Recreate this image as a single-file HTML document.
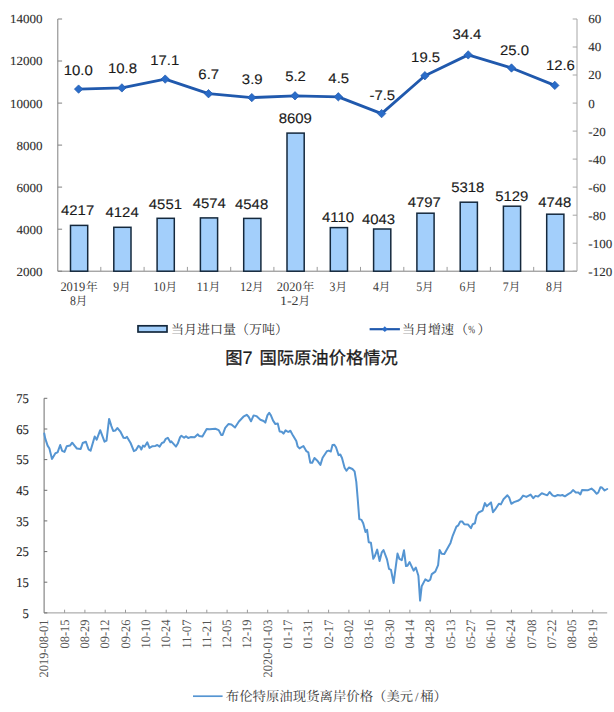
<!DOCTYPE html>
<html lang="zh"><head><meta charset="utf-8"><title>图7 国际原油价格情况</title>
<style>html,body{margin:0;padding:0;background:#fff}body{width:614px;height:712px;overflow:hidden;font-family:"Liberation Sans",sans-serif}svg{display:block}text{white-space:pre;text-rendering:geometricPrecision}</style></head>
<body>
<svg width="614" height="712" viewBox="0 0 614 712" font-family="Liberation Sans, sans-serif">
<rect width="614" height="712" fill="#fff"/>
<g fill="none" stroke-width="1">
<path stroke="#808080" d="M57.8 19V271.2H577"/>
<path stroke="#a6a6a6" d="M577 19V271.2"/>
<path stroke="#808080" d="M57.8 19h4.3M57.8 61h4.3M57.8 103.1h4.3M57.8 145.1h4.3M57.8 187.1h4.3M57.8 229.2h4.3M57.8 271.2h4.3"/>
<path stroke="#a6a6a6" d="M577 19h-4.3M577 47h-4.3M577 75h-4.3M577 103.1h-4.3M577 131.1h-4.3M577 159.1h-4.3M577 187.1h-4.3M577 215.2h-4.3M577 243.2h-4.3M577 271.2h-4.3"/>
<path stroke="#9c9c9c" d="M100.8 271.2v-4.3M144.1 271.2v-4.3M187.4 271.2v-4.3M230.7 271.2v-4.3M273.9 271.2v-4.3M317.2 271.2v-4.3M360.5 271.2v-4.3M403.8 271.2v-4.3M447.1 271.2v-4.3M490.4 271.2v-4.3M533.7 271.2v-4.3"/>
</g>
<text transform="translate(42.4,23.4) scale(1.04,1.0)" font-family="Liberation Serif" font-size="12.5" text-anchor="end" fill="#303030" stroke="#303030" stroke-width="0.12">14000</text>
<text transform="translate(42.4,65.4) scale(1.04,1.0)" font-family="Liberation Serif" font-size="12.5" text-anchor="end" fill="#303030" stroke="#303030" stroke-width="0.12">12000</text>
<text transform="translate(42.4,107.5) scale(1.04,1.0)" font-family="Liberation Serif" font-size="12.5" text-anchor="end" fill="#303030" stroke="#303030" stroke-width="0.12">10000</text>
<text transform="translate(42.4,149.5) scale(1.04,1.0)" font-family="Liberation Serif" font-size="12.5" text-anchor="end" fill="#303030" stroke="#303030" stroke-width="0.12">8000</text>
<text transform="translate(42.4,191.5) scale(1.04,1.0)" font-family="Liberation Serif" font-size="12.5" text-anchor="end" fill="#303030" stroke="#303030" stroke-width="0.12">6000</text>
<text transform="translate(42.4,233.6) scale(1.04,1.0)" font-family="Liberation Serif" font-size="12.5" text-anchor="end" fill="#303030" stroke="#303030" stroke-width="0.12">4000</text>
<text transform="translate(42.4,275.6) scale(1.04,1.0)" font-family="Liberation Serif" font-size="12.5" text-anchor="end" fill="#303030" stroke="#303030" stroke-width="0.12">2000</text>
<text transform="translate(588.3,23.4) scale(1.04,1.0)" font-family="Liberation Serif" font-size="12.5" text-anchor="start" fill="#303030" stroke="#303030" stroke-width="0.12">60</text>
<text transform="translate(588.3,51.4) scale(1.04,1.0)" font-family="Liberation Serif" font-size="12.5" text-anchor="start" fill="#303030" stroke="#303030" stroke-width="0.12">40</text>
<text transform="translate(588.3,79.4) scale(1.04,1.0)" font-family="Liberation Serif" font-size="12.5" text-anchor="start" fill="#303030" stroke="#303030" stroke-width="0.12">20</text>
<text transform="translate(588.3,107.5) scale(1.04,1.0)" font-family="Liberation Serif" font-size="12.5" text-anchor="start" fill="#303030" stroke="#303030" stroke-width="0.12">0</text>
<text transform="translate(588.3,135.5) scale(1.04,1.0)" font-family="Liberation Serif" font-size="12.5" text-anchor="start" fill="#303030" stroke="#303030" stroke-width="0.12">-20</text>
<text transform="translate(588.3,163.5) scale(1.04,1.0)" font-family="Liberation Serif" font-size="12.5" text-anchor="start" fill="#303030" stroke="#303030" stroke-width="0.12">-40</text>
<text transform="translate(588.3,191.5) scale(1.04,1.0)" font-family="Liberation Serif" font-size="12.5" text-anchor="start" fill="#303030" stroke="#303030" stroke-width="0.12">-60</text>
<text transform="translate(588.3,219.6) scale(1.04,1.0)" font-family="Liberation Serif" font-size="12.5" text-anchor="start" fill="#303030" stroke="#303030" stroke-width="0.12">-80</text>
<text transform="translate(588.3,247.6) scale(1.04,1.0)" font-family="Liberation Serif" font-size="12.5" text-anchor="start" fill="#303030" stroke="#303030" stroke-width="0.12">-100</text>
<text transform="translate(588.3,275.6) scale(1.04,1.0)" font-family="Liberation Serif" font-size="12.5" text-anchor="start" fill="#303030" stroke="#303030" stroke-width="0.12">-120</text>
<g fill="#a3cffb" stroke="#14283c" stroke-width="1.5">
<rect x="70.5" y="225.4" width="17.2" height="45.8"/>
<rect x="113.8" y="227.3" width="17.2" height="43.9"/>
<rect x="157.1" y="218.3" width="17.2" height="52.9"/>
<rect x="200.4" y="217.9" width="17.2" height="53.3"/>
<rect x="243.7" y="218.4" width="17.2" height="52.8"/>
<rect x="287" y="133.1" width="17.2" height="138.1"/>
<rect x="330.3" y="227.6" width="17.2" height="43.6"/>
<rect x="373.6" y="229" width="17.2" height="42.2"/>
<rect x="416.9" y="213.2" width="17.2" height="58"/>
<rect x="460.2" y="202.2" width="17.2" height="69"/>
<rect x="503.4" y="206.2" width="17.2" height="65"/>
<rect x="546.7" y="214.2" width="17.2" height="57"/>
</g>
<text transform="translate(77.6,215.3) scale(1.065,1.0)" font-family="Liberation Sans" font-size="14.0" text-anchor="middle" fill="#1a1a1a" stroke="#1a1a1a" stroke-width="0.12">4217</text>
<text transform="translate(122.1,217.3) scale(1.065,1.0)" font-family="Liberation Sans" font-size="14.0" text-anchor="middle" fill="#1a1a1a" stroke="#1a1a1a" stroke-width="0.12">4124</text>
<text transform="translate(165.4,208.6) scale(1.065,1.0)" font-family="Liberation Sans" font-size="14.0" text-anchor="middle" fill="#1a1a1a" stroke="#1a1a1a" stroke-width="0.12">4551</text>
<text transform="translate(209.3,208.4) scale(1.065,1.0)" font-family="Liberation Sans" font-size="14.0" text-anchor="middle" fill="#1a1a1a" stroke="#1a1a1a" stroke-width="0.12">4574</text>
<text transform="translate(251.6,208.6) scale(1.065,1.0)" font-family="Liberation Sans" font-size="14.0" text-anchor="middle" fill="#1a1a1a" stroke="#1a1a1a" stroke-width="0.12">4548</text>
<text transform="translate(295.3,123.2) scale(1.065,1.0)" font-family="Liberation Sans" font-size="14.0" text-anchor="middle" fill="#1a1a1a" stroke="#1a1a1a" stroke-width="0.12">8609</text>
<text transform="translate(338,221.9) scale(1.065,1.0)" font-family="Liberation Sans" font-size="14.0" text-anchor="middle" fill="#1a1a1a" stroke="#1a1a1a" stroke-width="0.12">4110</text>
<text transform="translate(378.5,223.5) scale(1.065,1.0)" font-family="Liberation Sans" font-size="14.0" text-anchor="middle" fill="#1a1a1a" stroke="#1a1a1a" stroke-width="0.12">4043</text>
<text transform="translate(424.3,207.4) scale(1.065,1.0)" font-family="Liberation Sans" font-size="14.0" text-anchor="middle" fill="#1a1a1a" stroke="#1a1a1a" stroke-width="0.12">4797</text>
<text transform="translate(467.8,192.3) scale(1.065,1.0)" font-family="Liberation Sans" font-size="14.0" text-anchor="middle" fill="#1a1a1a" stroke="#1a1a1a" stroke-width="0.12">5318</text>
<text transform="translate(511.8,200.9) scale(1.065,1.0)" font-family="Liberation Sans" font-size="14.0" text-anchor="middle" fill="#1a1a1a" stroke="#1a1a1a" stroke-width="0.12">5129</text>
<text transform="translate(554.8,207.3) scale(1.065,1.0)" font-family="Liberation Sans" font-size="14.0" text-anchor="middle" fill="#1a1a1a" stroke="#1a1a1a" stroke-width="0.12">4748</text>
<polyline fill="none" stroke="#2059ad" stroke-width="2.85" stroke-linejoin="round" stroke-linecap="round" points="78.6,89.1 121.9,87.9 165.2,79.1 208.5,93.7 251.8,97.6 295,95.8 338.3,96.8 381.6,113.6 424.9,75.7 468.2,54.9 511.5,68 554.8,85.4"/>
<path fill="#2a6cc8" stroke="#2059ad" stroke-width="0.7" stroke-linejoin="round" d="M78.6 84.9l4.2 4.2l-4.2 4.2l-4.2 -4.2zM121.9 83.7l4.2 4.2l-4.2 4.2l-4.2 -4.2zM165.2 74.9l4.2 4.2l-4.2 4.2l-4.2 -4.2zM208.5 89.5l4.2 4.2l-4.2 4.2l-4.2 -4.2zM251.8 93.4l4.2 4.2l-4.2 4.2l-4.2 -4.2zM295 91.6l4.2 4.2l-4.2 4.2l-4.2 -4.2zM338.3 92.6l4.2 4.2l-4.2 4.2l-4.2 -4.2zM381.6 109.4l4.2 4.2l-4.2 4.2l-4.2 -4.2zM424.9 71.5l4.2 4.2l-4.2 4.2l-4.2 -4.2zM468.2 50.7l4.2 4.2l-4.2 4.2l-4.2 -4.2zM511.5 63.8l4.2 4.2l-4.2 4.2l-4.2 -4.2zM554.8 81.2l4.2 4.2l-4.2 4.2l-4.2 -4.2z"/>
<text transform="translate(78.3,75.2) scale(1.065,1.0)" font-family="Liberation Sans" font-size="14.0" text-anchor="middle" fill="#1a1a1a" stroke="#1a1a1a" stroke-width="0.12">10.0</text>
<text transform="translate(122.5,73.4) scale(1.065,1.0)" font-family="Liberation Sans" font-size="14.0" text-anchor="middle" fill="#1a1a1a" stroke="#1a1a1a" stroke-width="0.12">10.8</text>
<text transform="translate(164.8,65.4) scale(1.065,1.0)" font-family="Liberation Sans" font-size="14.0" text-anchor="middle" fill="#1a1a1a" stroke="#1a1a1a" stroke-width="0.12">17.1</text>
<text transform="translate(208.7,79.2) scale(1.065,1.0)" font-family="Liberation Sans" font-size="14.0" text-anchor="middle" fill="#1a1a1a" stroke="#1a1a1a" stroke-width="0.12">6.7</text>
<text transform="translate(252.2,83.6) scale(1.065,1.0)" font-family="Liberation Sans" font-size="14.0" text-anchor="middle" fill="#1a1a1a" stroke="#1a1a1a" stroke-width="0.12">3.9</text>
<text transform="translate(295.5,81.4) scale(1.065,1.0)" font-family="Liberation Sans" font-size="14.0" text-anchor="middle" fill="#1a1a1a" stroke="#1a1a1a" stroke-width="0.12">5.2</text>
<text transform="translate(338.7,82.7) scale(1.065,1.0)" font-family="Liberation Sans" font-size="14.0" text-anchor="middle" fill="#1a1a1a" stroke="#1a1a1a" stroke-width="0.12">4.5</text>
<text transform="translate(382.3,99.8) scale(1.065,1.0)" font-family="Liberation Sans" font-size="14.0" text-anchor="middle" fill="#1a1a1a" stroke="#1a1a1a" stroke-width="0.12">-7.5</text>
<text transform="translate(425.6,61.7) scale(1.065,1.0)" font-family="Liberation Sans" font-size="14.0" text-anchor="middle" fill="#1a1a1a" stroke="#1a1a1a" stroke-width="0.12">19.5</text>
<text transform="translate(466.9,39.2) scale(1.065,1.0)" font-family="Liberation Sans" font-size="14.0" text-anchor="middle" fill="#1a1a1a" stroke="#1a1a1a" stroke-width="0.12">34.4</text>
<text transform="translate(514.5,54.7) scale(1.065,1.0)" font-family="Liberation Sans" font-size="14.0" text-anchor="middle" fill="#1a1a1a" stroke="#1a1a1a" stroke-width="0.12">25.0</text>
<text transform="translate(560.4,69.9) scale(1.065,1.0)" font-family="Liberation Sans" font-size="14.0" text-anchor="middle" fill="#1a1a1a" stroke="#1a1a1a" stroke-width="0.12">12.6</text>
<text x="60.4" y="291.3" font-family="Liberation Serif" font-size="13" textLength="24.9" lengthAdjust="spacingAndGlyphs" fill="#3c3c3c">2019</text>
<text x="91.8" y="291.3" font-family="'Liberation Serif', 'Noto Serif CJK SC', serif" font-size="12" text-anchor="middle" fill="#3c3c3c">年</text>
<text x="69.9" y="305.3" font-family="Liberation Serif" font-size="13" textLength="5.9" lengthAdjust="spacingAndGlyphs" fill="#3c3c3c">8</text>
<text x="81.5" y="305.3" font-family="'Liberation Serif', 'Noto Serif CJK SC', serif" font-size="12" text-anchor="middle" fill="#3c3c3c">月</text>
<text x="113.2" y="291.3" font-family="Liberation Serif" font-size="13" textLength="5.9" lengthAdjust="spacingAndGlyphs" fill="#3c3c3c">9</text>
<text x="124.8" y="291.3" font-family="'Liberation Serif', 'Noto Serif CJK SC', serif" font-size="12" text-anchor="middle" fill="#3c3c3c">月</text>
<text x="153.3" y="291.3" font-family="Liberation Serif" font-size="13" textLength="12.2" lengthAdjust="spacingAndGlyphs" fill="#3c3c3c">10</text>
<text x="171.2" y="291.3" font-family="'Liberation Serif', 'Noto Serif CJK SC', serif" font-size="12" text-anchor="middle" fill="#3c3c3c">月</text>
<text x="196.6" y="291.3" font-family="Liberation Serif" font-size="13" textLength="12.2" lengthAdjust="spacingAndGlyphs" fill="#3c3c3c">11</text>
<text x="214.5" y="291.3" font-family="'Liberation Serif', 'Noto Serif CJK SC', serif" font-size="12" text-anchor="middle" fill="#3c3c3c">月</text>
<text x="239.9" y="291.3" font-family="Liberation Serif" font-size="13" textLength="12.2" lengthAdjust="spacingAndGlyphs" fill="#3c3c3c">12</text>
<text x="257.8" y="291.3" font-family="'Liberation Serif', 'Noto Serif CJK SC', serif" font-size="12" text-anchor="middle" fill="#3c3c3c">月</text>
<text x="276.8" y="291.3" font-family="Liberation Serif" font-size="13" textLength="24.9" lengthAdjust="spacingAndGlyphs" fill="#3c3c3c">2020</text>
<text x="308.2" y="291.3" font-family="'Liberation Serif', 'Noto Serif CJK SC', serif" font-size="12" text-anchor="middle" fill="#3c3c3c">年</text>
<text x="280" y="305.3" font-family="Liberation Serif" font-size="13" textLength="18.6" lengthAdjust="spacingAndGlyphs" fill="#3c3c3c">1-2</text>
<text x="304.2" y="305.3" font-family="'Liberation Serif', 'Noto Serif CJK SC', serif" font-size="12" text-anchor="middle" fill="#3c3c3c">月</text>
<text x="329.6" y="291.3" font-family="Liberation Serif" font-size="13" textLength="5.9" lengthAdjust="spacingAndGlyphs" fill="#3c3c3c">3</text>
<text x="341.2" y="291.3" font-family="'Liberation Serif', 'Noto Serif CJK SC', serif" font-size="12" text-anchor="middle" fill="#3c3c3c">月</text>
<text x="372.9" y="291.3" font-family="Liberation Serif" font-size="13" textLength="5.9" lengthAdjust="spacingAndGlyphs" fill="#3c3c3c">4</text>
<text x="384.5" y="291.3" font-family="'Liberation Serif', 'Noto Serif CJK SC', serif" font-size="12" text-anchor="middle" fill="#3c3c3c">月</text>
<text x="416.2" y="291.3" font-family="Liberation Serif" font-size="13" textLength="5.9" lengthAdjust="spacingAndGlyphs" fill="#3c3c3c">5</text>
<text x="427.8" y="291.3" font-family="'Liberation Serif', 'Noto Serif CJK SC', serif" font-size="12" text-anchor="middle" fill="#3c3c3c">月</text>
<text x="459.5" y="291.3" font-family="Liberation Serif" font-size="13" textLength="5.9" lengthAdjust="spacingAndGlyphs" fill="#3c3c3c">6</text>
<text x="471.1" y="291.3" font-family="'Liberation Serif', 'Noto Serif CJK SC', serif" font-size="12" text-anchor="middle" fill="#3c3c3c">月</text>
<text x="502.8" y="291.3" font-family="Liberation Serif" font-size="13" textLength="5.9" lengthAdjust="spacingAndGlyphs" fill="#3c3c3c">7</text>
<text x="514.4" y="291.3" font-family="'Liberation Serif', 'Noto Serif CJK SC', serif" font-size="12" text-anchor="middle" fill="#3c3c3c">月</text>
<text x="546.1" y="291.3" font-family="Liberation Serif" font-size="13" textLength="5.9" lengthAdjust="spacingAndGlyphs" fill="#3c3c3c">8</text>
<text x="557.7" y="291.3" font-family="'Liberation Serif', 'Noto Serif CJK SC', serif" font-size="12" text-anchor="middle" fill="#3c3c3c">月</text>
<rect x="138" y="325.8" width="29" height="6.2" fill="#a3cffb" stroke="#14283c" stroke-width="1.7"/>
<text x="171" y="334" font-family="'Liberation Serif', 'Noto Serif CJK SC', serif" font-size="13" fill="#333">当月进口量（万吨）</text>
<path stroke="#2059ad" stroke-width="2.2" fill="none" d="M369.6 329.2H399.9"/>
<path fill="#2a6cc8" d="M384.8 326.3l2.9 2.9l-2.9 2.9l-2.9 -2.9z"/>
<text x="402" y="334" font-family="'Liberation Serif', 'Noto Serif CJK SC', serif" font-size="13" fill="#333">当月增速</text>
<text x="455" y="334" font-family="'Liberation Serif', 'Noto Serif CJK SC', serif" font-size="13" fill="#333">（</text>
<text x="468.3" y="333.2" font-family="Liberation Serif" font-size="11" textLength="6.8" lengthAdjust="spacingAndGlyphs" fill="#333">%</text>
<text x="477.5" y="334" font-family="'Liberation Serif', 'Noto Serif CJK SC', serif" font-size="13" fill="#333">）</text>
<text x="225.3" y="364" font-family="'Liberation Sans', 'Noto Sans CJK SC', sans-serif" font-size="17.3" fill="#1a1a1a" stroke="#1a1a1a" stroke-width="0.3">图</text>
<text transform="translate(242.4,363.5) scale(1.0,1)" font-family="Liberation Sans" font-size="18" fill="#1a1a1a" stroke="#1a1a1a" stroke-width="0.2">7</text>
<text x="259.5" y="364" font-family="'Liberation Sans', 'Noto Sans CJK SC', sans-serif" font-size="17.3" fill="#1a1a1a" stroke="#1a1a1a" stroke-width="0.3">国际原油价格情况</text>
<g fill="none" stroke-width="1">
<path stroke="#6e6e6e" d="M44.1 398.3V612.9"/>
<path stroke="#9a9a9a" d="M44.1 612.9H607.2"/>
<path stroke="#6e6e6e" d="M44.1 398.3h3.2M44.1 429h3.2M44.1 459.6h3.2M44.1 490.3h3.2M44.1 520.9h3.2M44.1 551.6h3.2M44.1 582.2h3.2M44.1 612.9h3.2"/>
<path stroke="#9a9a9a" d="M64.6 612.9v-3.2M84.9 612.9v-3.2M105.2 612.9v-3.2M125.5 612.9v-3.2M145.8 612.9v-3.2M166.2 612.9v-3.2M186.5 612.9v-3.2M206.8 612.9v-3.2M227.1 612.9v-3.2M247.4 612.9v-3.2M267.7 612.9v-3.2M288 612.9v-3.2M308.3 612.9v-3.2M328.6 612.9v-3.2M348.9 612.9v-3.2M369.3 612.9v-3.2M389.6 612.9v-3.2M409.9 612.9v-3.2M430.2 612.9v-3.2M450.5 612.9v-3.2M470.8 612.9v-3.2M491.1 612.9v-3.2M511.4 612.9v-3.2M531.7 612.9v-3.2M552 612.9v-3.2M572.4 612.9v-3.2M592.7 612.9v-3.2"/>
</g>
<text transform="translate(28.8,402.9) scale(0.94,1.0)" font-family="Liberation Serif" font-size="13.4" text-anchor="end" fill="#222" stroke="#222" stroke-width="0.15">75</text>
<text transform="translate(28.8,433.6) scale(0.94,1.0)" font-family="Liberation Serif" font-size="13.4" text-anchor="end" fill="#222" stroke="#222" stroke-width="0.15">65</text>
<text transform="translate(28.8,464.2) scale(0.94,1.0)" font-family="Liberation Serif" font-size="13.4" text-anchor="end" fill="#222" stroke="#222" stroke-width="0.15">55</text>
<text transform="translate(28.8,494.9) scale(0.94,1.0)" font-family="Liberation Serif" font-size="13.4" text-anchor="end" fill="#222" stroke="#222" stroke-width="0.15">45</text>
<text transform="translate(28.8,525.5) scale(0.94,1.0)" font-family="Liberation Serif" font-size="13.4" text-anchor="end" fill="#222" stroke="#222" stroke-width="0.15">35</text>
<text transform="translate(28.8,556.2) scale(0.94,1.0)" font-family="Liberation Serif" font-size="13.4" text-anchor="end" fill="#222" stroke="#222" stroke-width="0.15">25</text>
<text transform="translate(28.8,586.8) scale(0.94,1.0)" font-family="Liberation Serif" font-size="13.4" text-anchor="end" fill="#222" stroke="#222" stroke-width="0.15">15</text>
<text transform="translate(28.8,617.5) scale(0.94,1.0)" font-family="Liberation Serif" font-size="13.4" text-anchor="end" fill="#222" stroke="#222" stroke-width="0.15">5</text>
<text transform="translate(48.3,619.5) rotate(-90) scale(1,1.15)" font-family="Liberation Serif" font-size="11.2" text-anchor="end" textLength="58" lengthAdjust="spacingAndGlyphs" fill="#555">2019-08-01</text>
<text transform="translate(68.6,619.5) rotate(-90) scale(1,1.15)" font-family="Liberation Serif" font-size="11.2" text-anchor="end" textLength="29" lengthAdjust="spacingAndGlyphs" fill="#555">08-15</text>
<text transform="translate(88.9,619.5) rotate(-90) scale(1,1.15)" font-family="Liberation Serif" font-size="11.2" text-anchor="end" textLength="29" lengthAdjust="spacingAndGlyphs" fill="#555">08-29</text>
<text transform="translate(109.2,619.5) rotate(-90) scale(1,1.15)" font-family="Liberation Serif" font-size="11.2" text-anchor="end" textLength="29" lengthAdjust="spacingAndGlyphs" fill="#555">09-12</text>
<text transform="translate(129.5,619.5) rotate(-90) scale(1,1.15)" font-family="Liberation Serif" font-size="11.2" text-anchor="end" textLength="29" lengthAdjust="spacingAndGlyphs" fill="#555">09-26</text>
<text transform="translate(149.8,619.5) rotate(-90) scale(1,1.15)" font-family="Liberation Serif" font-size="11.2" text-anchor="end" textLength="29" lengthAdjust="spacingAndGlyphs" fill="#555">10-10</text>
<text transform="translate(170.2,619.5) rotate(-90) scale(1,1.15)" font-family="Liberation Serif" font-size="11.2" text-anchor="end" textLength="29" lengthAdjust="spacingAndGlyphs" fill="#555">10-24</text>
<text transform="translate(190.5,619.5) rotate(-90) scale(1,1.15)" font-family="Liberation Serif" font-size="11.2" text-anchor="end" textLength="29" lengthAdjust="spacingAndGlyphs" fill="#555">11-07</text>
<text transform="translate(210.8,619.5) rotate(-90) scale(1,1.15)" font-family="Liberation Serif" font-size="11.2" text-anchor="end" textLength="29" lengthAdjust="spacingAndGlyphs" fill="#555">11-21</text>
<text transform="translate(231.1,619.5) rotate(-90) scale(1,1.15)" font-family="Liberation Serif" font-size="11.2" text-anchor="end" textLength="29" lengthAdjust="spacingAndGlyphs" fill="#555">12-05</text>
<text transform="translate(251.4,619.5) rotate(-90) scale(1,1.15)" font-family="Liberation Serif" font-size="11.2" text-anchor="end" textLength="29" lengthAdjust="spacingAndGlyphs" fill="#555">12-19</text>
<text transform="translate(271.7,619.5) rotate(-90) scale(1,1.15)" font-family="Liberation Serif" font-size="11.2" text-anchor="end" textLength="58" lengthAdjust="spacingAndGlyphs" fill="#555">2020-01-03</text>
<text transform="translate(292,619.5) rotate(-90) scale(1,1.15)" font-family="Liberation Serif" font-size="11.2" text-anchor="end" textLength="29" lengthAdjust="spacingAndGlyphs" fill="#555">01-17</text>
<text transform="translate(312.3,619.5) rotate(-90) scale(1,1.15)" font-family="Liberation Serif" font-size="11.2" text-anchor="end" textLength="29" lengthAdjust="spacingAndGlyphs" fill="#555">01-31</text>
<text transform="translate(332.6,619.5) rotate(-90) scale(1,1.15)" font-family="Liberation Serif" font-size="11.2" text-anchor="end" textLength="29" lengthAdjust="spacingAndGlyphs" fill="#555">02-17</text>
<text transform="translate(352.9,619.5) rotate(-90) scale(1,1.15)" font-family="Liberation Serif" font-size="11.2" text-anchor="end" textLength="29" lengthAdjust="spacingAndGlyphs" fill="#555">03-02</text>
<text transform="translate(373.3,619.5) rotate(-90) scale(1,1.15)" font-family="Liberation Serif" font-size="11.2" text-anchor="end" textLength="29" lengthAdjust="spacingAndGlyphs" fill="#555">03-16</text>
<text transform="translate(393.6,619.5) rotate(-90) scale(1,1.15)" font-family="Liberation Serif" font-size="11.2" text-anchor="end" textLength="29" lengthAdjust="spacingAndGlyphs" fill="#555">03-30</text>
<text transform="translate(413.9,619.5) rotate(-90) scale(1,1.15)" font-family="Liberation Serif" font-size="11.2" text-anchor="end" textLength="29" lengthAdjust="spacingAndGlyphs" fill="#555">04-14</text>
<text transform="translate(434.2,619.5) rotate(-90) scale(1,1.15)" font-family="Liberation Serif" font-size="11.2" text-anchor="end" textLength="29" lengthAdjust="spacingAndGlyphs" fill="#555">04-28</text>
<text transform="translate(454.5,619.5) rotate(-90) scale(1,1.15)" font-family="Liberation Serif" font-size="11.2" text-anchor="end" textLength="29" lengthAdjust="spacingAndGlyphs" fill="#555">05-13</text>
<text transform="translate(474.8,619.5) rotate(-90) scale(1,1.15)" font-family="Liberation Serif" font-size="11.2" text-anchor="end" textLength="29" lengthAdjust="spacingAndGlyphs" fill="#555">05-27</text>
<text transform="translate(495.1,619.5) rotate(-90) scale(1,1.15)" font-family="Liberation Serif" font-size="11.2" text-anchor="end" textLength="29" lengthAdjust="spacingAndGlyphs" fill="#555">06-10</text>
<text transform="translate(515.4,619.5) rotate(-90) scale(1,1.15)" font-family="Liberation Serif" font-size="11.2" text-anchor="end" textLength="29" lengthAdjust="spacingAndGlyphs" fill="#555">06-24</text>
<text transform="translate(535.7,619.5) rotate(-90) scale(1,1.15)" font-family="Liberation Serif" font-size="11.2" text-anchor="end" textLength="29" lengthAdjust="spacingAndGlyphs" fill="#555">07-08</text>
<text transform="translate(556,619.5) rotate(-90) scale(1,1.15)" font-family="Liberation Serif" font-size="11.2" text-anchor="end" textLength="29" lengthAdjust="spacingAndGlyphs" fill="#555">07-22</text>
<text transform="translate(576.4,619.5) rotate(-90) scale(1,1.15)" font-family="Liberation Serif" font-size="11.2" text-anchor="end" textLength="29" lengthAdjust="spacingAndGlyphs" fill="#555">08-05</text>
<text transform="translate(596.7,619.5) rotate(-90) scale(1,1.15)" font-family="Liberation Serif" font-size="11.2" text-anchor="end" textLength="29" lengthAdjust="spacingAndGlyphs" fill="#555">08-19</text>
<polyline fill="none" stroke="#5595d2" stroke-width="2.0" stroke-linejoin="round" stroke-linecap="round" points="44.3,433.6 45.2,438.4 47.6,445.6 49.4,448.5 52,458.9 55.4,453.2 57.6,452.4 60.2,445 62.1,450.8 64.5,451.9 66.7,446.3 70,445.6 72.2,442.7 74.5,445.6 76.9,448.5 80.7,448.9 82.7,443 85.9,441.7 88.5,449.3 90.6,450.6 94.7,436.5 96.7,439.7 100.2,430.2 104.5,441.7 106.5,440.7 109.1,418.9 111.4,426.1 113.2,431 115.3,430.6 117.3,428 120.2,431.3 123.5,437.8 125.4,438 127,436.9 130.6,443 133.9,451.1 135.8,450.2 138.5,445.9 139.8,446.6 141.3,449.5 143,445.6 144.7,446.6 147.3,442.3 149.5,447.9 152.1,446.3 155.4,445.9 157.3,445 159.6,446.6 161.9,443 163.9,442.3 165.8,438.8 167.8,437.8 170.4,442.3 171.3,441.4 176,446.6 177.8,443.6 180.1,437.1 181.4,435.8 184.1,437.8 186,436.2 188.2,438 190.6,437.1 194.6,437.2 197.8,434.3 199.1,435.9 202.4,436.6 206.7,429.1 209.5,429.3 215.4,428.8 218.7,430.1 221.3,435 222.6,435 225.2,427.8 228.4,424.1 231.4,424.5 235,427.5 238.9,421.5 243.4,416.7 246.7,414.8 248.6,416.7 251,421.3 253.6,415.4 256.4,416.1 260.4,419.7 263.6,421 265.3,422.6 267.4,415.4 269.2,412.8 270.9,415.4 273.1,420.6 275.4,424.1 277.8,423.6 279.6,431.4 281.7,431.7 283.5,433.6 285.6,430.4 288.2,432 290.4,430.7 293,435.6 296.3,441.1 297.6,446.3 299.5,448.4 303.4,446 306.4,451.2 308.3,452.3 310.3,462.7 312.2,462.7 314.5,458 317.1,460.4 320.4,464.9 322.6,457.8 326.9,451.2 328.8,450.6 330.8,451.5 332.5,445 334.3,444.7 336,447.3 338.6,455.1 340.3,454.5 342,458 344.6,467.7 346.5,470.7 348.9,467.5 352.4,469 354.6,471.4 356.3,481.8 357.6,497.5 359.3,519.1 361.5,519.9 363.2,523.3 365.5,532 367.1,529.9 368.7,542.2 370.9,542.7 373.3,558.8 374.6,556.6 377.2,549.6 379.6,561 381.8,552.3 383.5,550 387,559.4 389,568.9 391,569.9 393.6,583 397.5,553.6 399.4,558.8 401.8,560.1 404,550.3 406,566 407.5,565.7 409.6,562.1 413.6,570.6 415.8,567.5 418.4,575.8 420.1,600.6 421.7,586.2 425.3,579.4 428.2,581.1 430.2,579.7 431.8,574.1 435.3,571.6 438.1,565.2 439.6,550.1 441.7,553.8 444.3,554.1 450.5,542.9 452.7,535.8 456.4,526.6 458.3,525.3 460.3,521.4 462.3,521.6 464.2,524.2 468.1,524.6 471,528.2 472.7,524.2 474.9,523.3 476.6,515.5 478.6,512.5 482.5,510.7 484.9,503.1 486.7,506.3 491,502.4 493,512.2 495,509.7 498.9,503.8 500.9,504.4 503.5,499.2 507.4,495.3 509.1,497.3 511.3,503.8 514,502.1 517.9,500.8 520.5,499.2 523.1,495.6 526.4,496.9 530.6,494.6 533.2,498.2 535.5,495.9 538.1,496.6 541.8,493.3 545.3,494.6 547.3,495.3 549.6,492 552.5,495.3 554.9,496.3 557.7,495 560.4,495.6 562.3,495 564.9,496.3 568.2,494.2 570.8,492.7 573,490.1 575.8,492.5 578.4,492.5 580.4,494.4 582.1,489.9 587.6,490.3 591.5,488.6 593.9,490.5 596.7,493.8 598.3,492.5 600.4,487.3 602,487.6 604.6,490.5 607.2,489"/>
<path stroke="#5595d2" stroke-width="1.7" fill="none" d="M193 696.2H222.6"/>
<text x="225.8" y="700.8" font-family="'Liberation Serif', 'Noto Serif CJK SC', serif" font-size="13.4" fill="#3a3a3a">布伦特原油现货离岸价格（美元</text>
<text x="414.9" y="700.5" font-family="Liberation Serif" font-size="12.6" fill="#3a3a3a">/</text>
<text x="420.2" y="700.8" font-family="'Liberation Serif', 'Noto Serif CJK SC', serif" font-size="13.4" fill="#3a3a3a">桶）</text>
</svg>
</body></html>
